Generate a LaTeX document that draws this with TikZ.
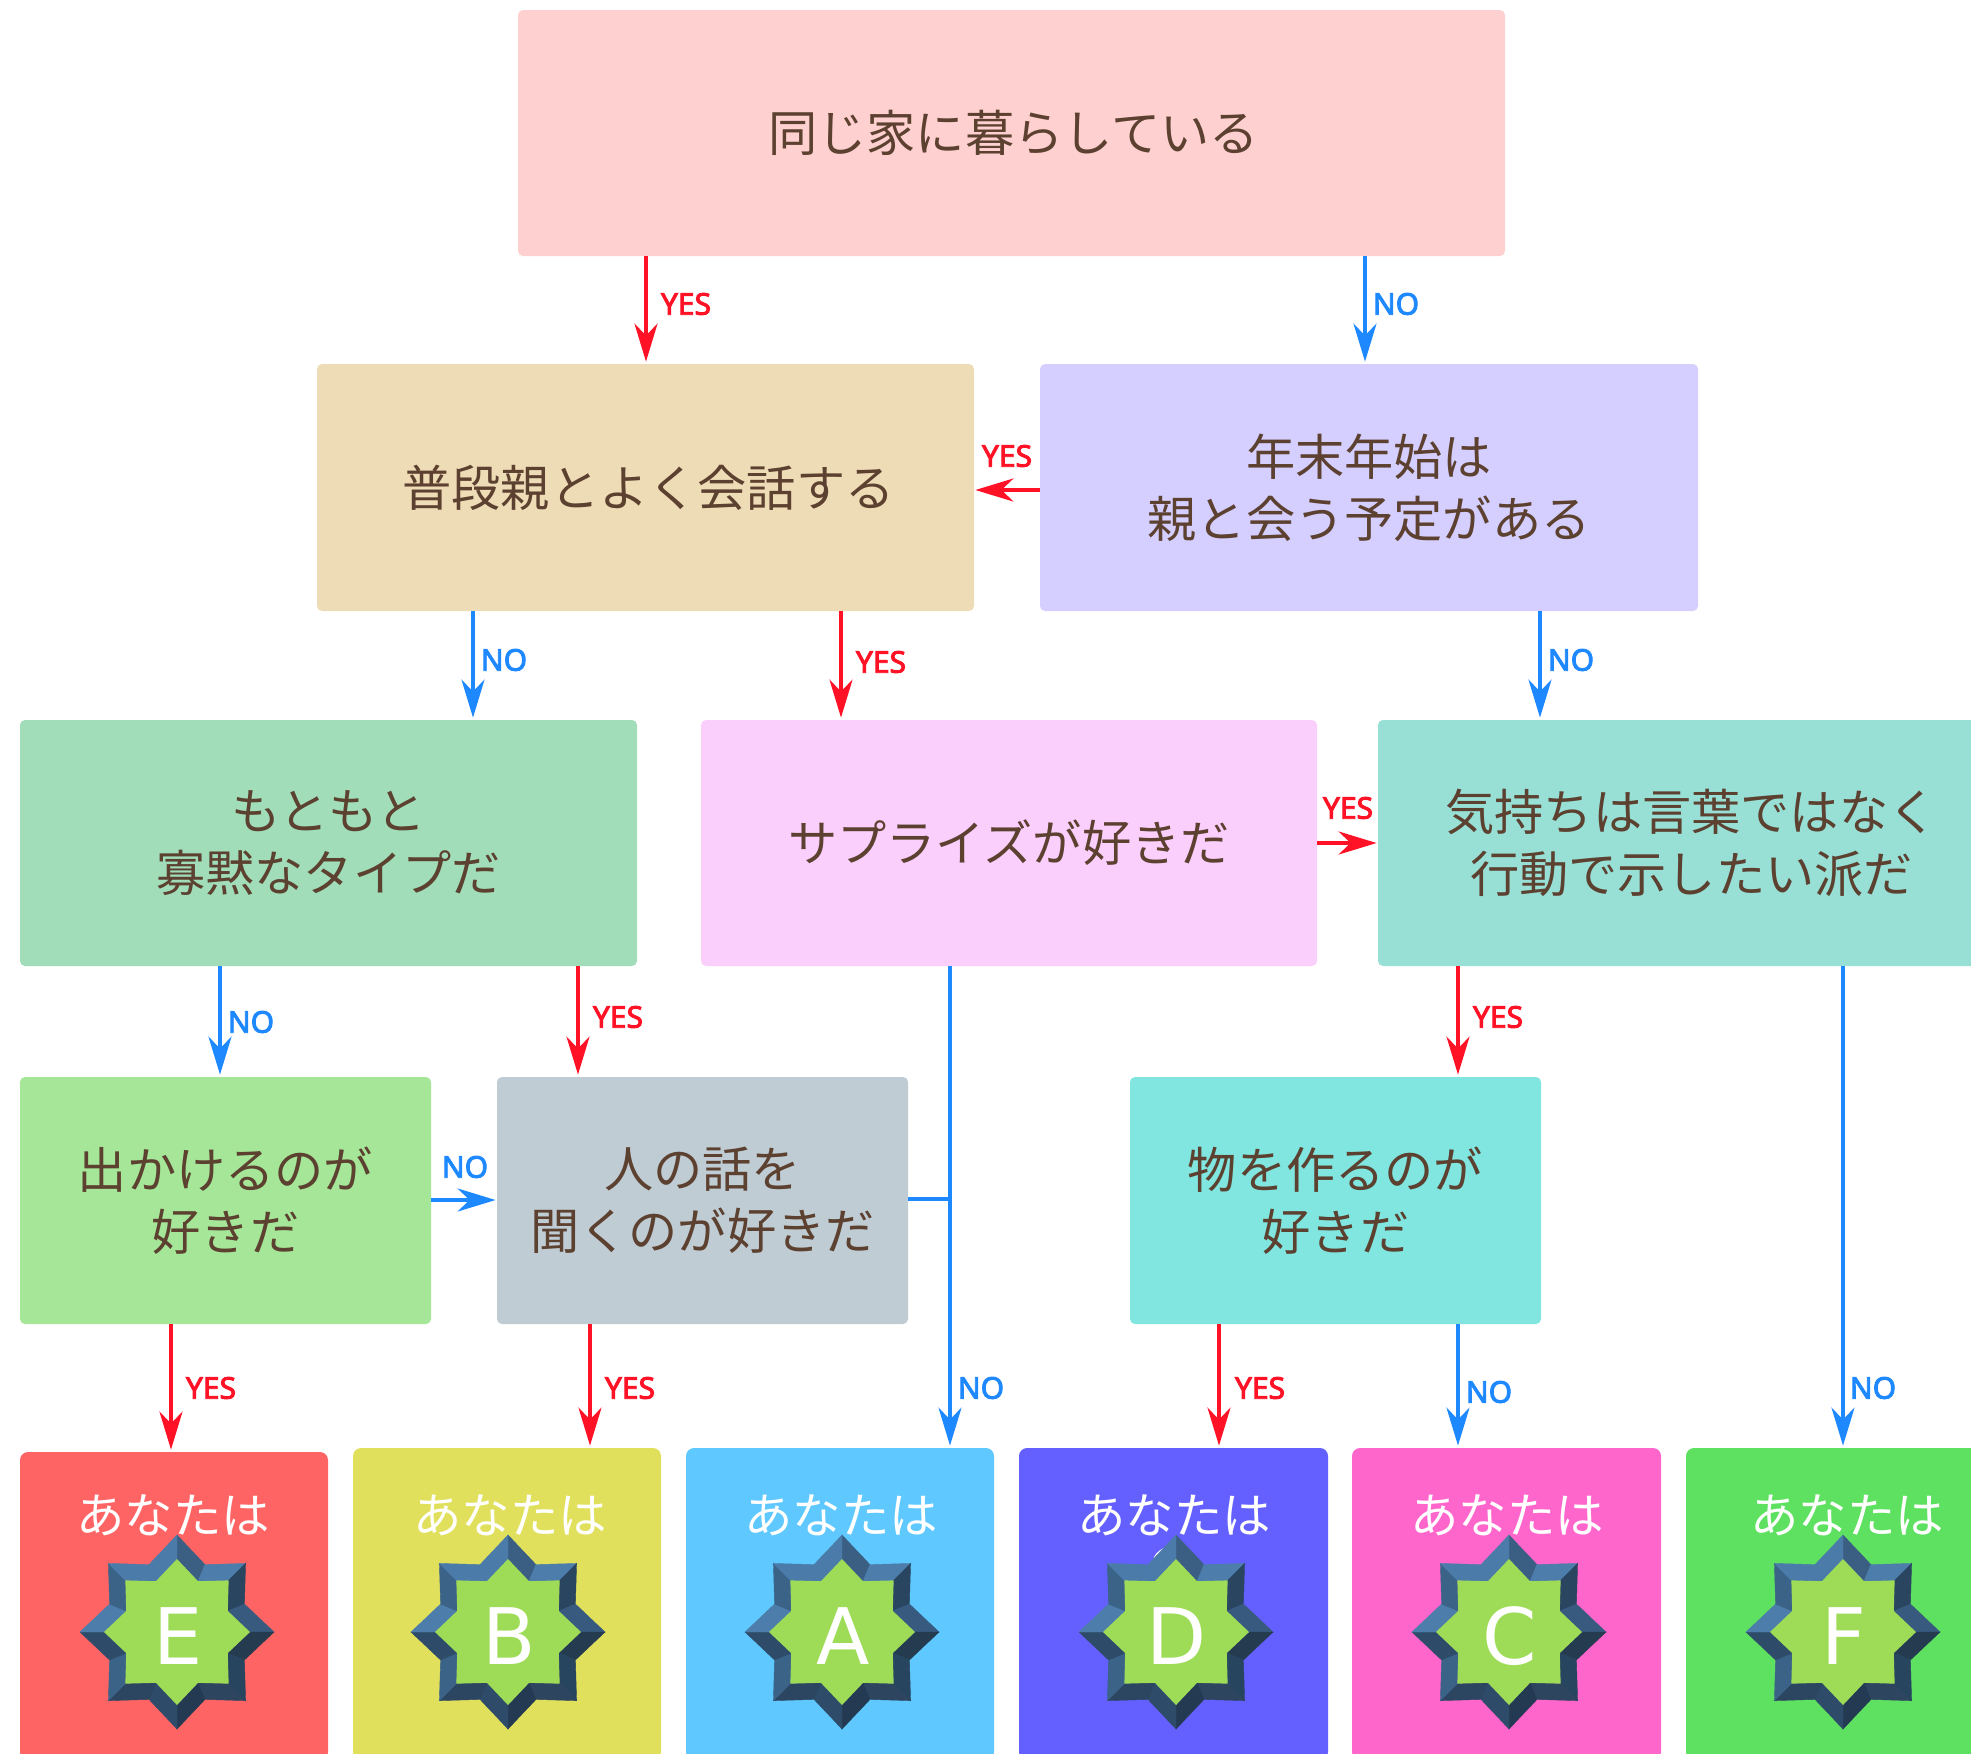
\documentclass[tikz,border=0pt]{standalone}
\usepackage{fontspec}
\usetikzlibrary{arrows.meta}
\setmainfont{Noto Sans CJK JP}
\newfontfamily\labfont[FakeBold=3]{Noto Sans}
\newfontfamily\badgefont{DejaVu Sans}
\definecolor{redline}{HTML}{FF1226}
\definecolor{blueline}{HTML}{1E88FF}
\definecolor{browntext}{HTML}{5C4030}
\definecolor{stargreen}{HTML}{9EDC58}
\definecolor{ctop}{HTML}{FFD0D0}
\definecolor{ctan}{HTML}{EEDCB6}
\definecolor{clilac}{HTML}{D5CFFF}
\definecolor{cgreen}{HTML}{A0DDB8}
\definecolor{cpink}{HTML}{FBCFFC}
\definecolor{cteal}{HTML}{98E0D6}
\definecolor{clg}{HTML}{A5E698}
\definecolor{cgrey}{HTML}{BFCCD3}
\definecolor{ccyan}{HTML}{80E6DF}
\definecolor{cardE}{HTML}{FF6464}
\definecolor{cardB}{HTML}{E0E05C}
\definecolor{cardA}{HTML}{5EC8FF}
\definecolor{cardD}{HTML}{6460FF}
\definecolor{cardC}{HTML}{FF66CC}
\definecolor{cardF}{HTML}{5EE060}
\tikzset{
  flowbox/.style={rectangle,rounded corners=2.5pt,inner sep=0pt,align=center,text=browntext,
    font=\fontsize{24.6}{31}\selectfont},
  cardbox/.style={rectangle,rounded corners=4pt,inner sep=0pt},
  cardtext/.style={inner sep=0pt,text=white,font=\fontsize{24.2}{28}\selectfont},
  letter/.style={inner sep=0pt,text=white,font=\badgefont\fontsize{39}{39}\selectfont},
  yesline/.style={draw=redline,line width=2pt,-{Stealth[length=19pt,width=11.5pt,inset=6pt]},shorten >=1pt},
  noline/.style={draw=blueline,line width=2pt,-{Stealth[length=19pt,width=11.5pt,inset=6pt]},shorten >=1pt},
  yeslabel/.style={inner sep=0pt,text=redline,font=\labfont\fontsize{15}{15}\selectfont},
  nolabel/.style={inner sep=0pt,text=blueline,font=\labfont\fontsize{15}{15}\selectfont},
}
\newcommand{\flownode}[7]{%
  \node[flowbox,fill=#6,minimum width={(#4-#2)*0.5pt},minimum height={(#5-#3)*0.5pt}]
    (#1) at ({(#2+#4)/2},{(#3+#5)/2}) {#7};}
\newcommand{\cardnode}[6]{%
  \node[cardbox,fill=#6,minimum width={(#4-#2)*0.5pt},minimum height={(#5-#3)*0.5pt}]
    (#1) at ({(#2+#4)/2},{(#3+#5)/2}) {};}
\newcommand{\badge}[3]{% name, cx, letter
  \begin{scope}[shift={(#2,1632)}]
    \foreach \k/\c in {0/3A5F83,1/4C7DAB,2/2A4560,3/375A7E,4/253B50,5/28455F,6/2E4560,7/233A52,
                       8/2E4C69,9/2C4560,10/3B6388,11/2E4C69,12/4C7DAB,13/3B6388,14/4A7BA9,15/4A7BA9}{
      \definecolor{facet}{HTML}{\c}
      \pgfmathsetmacro{\aa}{-90+22.5*\k}
      \pgfmathsetmacro{\ab}{-90+22.5*(\k+1)}
      \pgfmathsetmacro{\ra}{mod(\k,2)==0?97:73}
      \pgfmathsetmacro{\rb}{mod(\k,2)==0?73:97}
      \pgfmathsetmacro{\ia}{0.75*\ra}
      \pgfmathsetmacro{\ib}{0.75*\rb}
      \filldraw[fill=facet,draw=facet,line width=0.2pt]
        (\aa:\ra) -- (\ab:\rb) -- (\ab:\ib) -- (\aa:\ia) -- cycle;
    }
    \fill[stargreen] (-90:73)
      \foreach \k in {1,...,15}{
        -- ({-90+22.5*\k}:{mod(\k,2)==0?73:55})
      } -- cycle;
    \node[letter] (#1) at (1,4) {#3};
  \end{scope}}
\begin{document}
\begin{tikzpicture}[x=0.5pt,y=-0.5pt]
\useasboundingbox (0,0) rectangle (1971,1753);
\clip (0,0) rectangle (1971,1753);
% flow boxes
\flownode{top}{518}{10}{1505}{256}{ctop}{\hspace*{2pt}同じ家に暮らしている}
\flownode{tan}{317}{364}{974}{611}{ctan}{\hspace*{3pt}普段親とよく会話する}
\flownode{lilac}{1040}{364}{1698}{611}{clilac}{年末年始は\\親と会う予定がある}
\flownode{green}{20}{720}{637}{966}{cgreen}{もともと\\寡黙なタイプだ}
\flownode{pink}{701}{720}{1317}{966}{cpink}{サプライズが好きだ}
\flownode{teal}{1378}{720}{2005}{966}{cteal}{気持ちは言葉ではなく\\行動で示したい派だ}
\flownode{lg}{20}{1077}{431}{1324}{clg}{出かけるのが\\好きだ}
\flownode{grey}{497}{1077}{908}{1324}{cgrey}{人の話を\\聞くのが好きだ}
\flownode{cyan}{1130}{1077}{1541}{1324}{ccyan}{物を作るのが\\好きだ}
% result cards
\cardnode{cE}{20}{1452}{328}{1760}{cardE}
\cardnode{cB}{353}{1448}{661}{1760}{cardB}
\cardnode{cA}{686}{1448}{994}{1760}{cardA}
\cardnode{cD}{1019}{1448}{1328}{1760}{cardD}
\cardnode{cC}{1352}{1448}{1661}{1760}{cardC}
\cardnode{cF}{1686}{1448}{1994}{1760}{cardF}
\node[cardtext] (tE) at (173,1515) {あなたは};
\node[cardtext] (tB) at (510,1515) {あなたは};
\node[cardtext] (tA) at (841,1515) {あなたは};
\node[cardtext] (tD) at (1174,1515) {あなたは};
\node[cardtext] (tC) at (1507,1515) {あなたは};
\node[cardtext] (tF) at (1847,1515) {あなたは};
\draw[white,line width=1.5pt,line cap=round] (1155,1558) .. controls (1158,1553) and (1162,1550) .. (1166,1549);
\badge{bE}{177}{E}
\badge{bB}{508}{B}
\badge{bA}{842}{A}
\badge{bD}{1176}{D}
\badge{bC}{1509}{C}
\badge{bF}{1843}{F}
% connectors
\draw[yesline] (top.south -| 646,0) -- (tan.north -| 646,0);
\draw[noline] (top.south -| 1365,0) -- (lilac.north -| 1365,0);
\draw[yesline,shorten >=0.5pt] (lilac.west |- 0,490) -- (tan.east |- 0,490);
\draw[noline] (tan.south -| 473,0) -- (green.north -| 473,0);
\draw[yesline] (tan.south -| 841,0) -- (pink.north -| 841,0);
\draw[noline] (lilac.south -| 1540,0) -- (teal.north -| 1540,0);
\draw[yesline,shorten >=0.5pt] (pink.east |- 0,843) -- (teal.west |- 0,843);
\draw[noline] (green.south -| 220,0) -- (lg.north -| 220,0);
\draw[yesline] (green.south -| 578,0) -- (grey.north -| 578,0);
\draw[noline] (pink.south -| 950,0) -- (cA.north -| 950,0);
\coordinate (join) at (950,1199);
\draw[noline,-,shorten >=0pt] (grey.east |- join) -- (join);
\draw[noline,shorten >=0.5pt] (lg.east |- 0,1200) -- (grey.west |- 0,1200);
\draw[yesline] (teal.south -| 1458,0) -- (cyan.north -| 1458,0);
\draw[noline] (teal.south -| 1843,0) -- (cF.north -| 1843,0);
\draw[yesline] (lg.south -| 171,0) -- (cE.north -| 171,0);
\draw[yesline] (grey.south -| 590,0) -- (cB.north -| 590,0);
\draw[yesline] (cyan.south -| 1219,0) -- (cD.north -| 1219,0);
\draw[noline] (cyan.south -| 1458,0) -- (cC.north -| 1458,0);
% connector labels
\node[yeslabel] (l1) at (686,304) {YES};
\node[nolabel] (l2) at (1396,304) {NO};
\node[yeslabel] (l3) at (1007,456) {YES};
\node[nolabel] (l4) at (504,660) {NO};
\node[yeslabel] (l5) at (881,662) {YES};
\node[nolabel] (l6) at (1571,660) {NO};
\node[yeslabel] (l7) at (1348,808) {YES};
\node[nolabel] (l8) at (251,1022) {NO};
\node[yeslabel] (l9) at (618,1017) {YES};
\node[nolabel] (l10) at (981,1388) {NO};
\node[nolabel] (l11) at (465,1167) {NO};
\node[yeslabel] (l12) at (1498,1017) {YES};
\node[nolabel] (l13) at (1873,1388) {NO};
\node[yeslabel] (l14) at (211,1388) {YES};
\node[yeslabel] (l15) at (630,1388) {YES};
\node[yeslabel] (l16) at (1260,1388) {YES};
\node[nolabel] (l17) at (1489,1392) {NO};
\end{tikzpicture}
\end{document}
